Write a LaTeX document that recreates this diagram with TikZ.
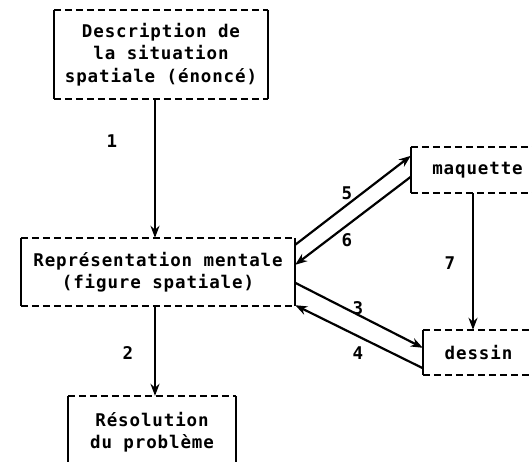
\documentclass[tikz,border=0pt]{standalone}
\usepackage{fontspec}
\newfontfamily\dm[LetterSpace=5]{DejaVu Sans Mono}
\usetikzlibrary{arrows.meta,calc}
\begin{document}
\begin{tikzpicture}[x=1pt,y=-1pt,
  box/.style={inner sep=0pt,align=center,font=\dm\bfseries\fontsize{17.5}{22.5}\selectfont},
  lab/.style={font=\dm\bfseries\fontsize{17.5}{22.5}\selectfont},
  ln/.style={line width=2.2pt},
  arr/.style={ln,-{Stealth[length=12pt,width=9pt]}}]
\useasboundingbox (0,0) rectangle (532,462);
\fill[white] (0,0) rectangle (532,462);
\clip (0,0) rectangle (532,462);
\node[box,minimum width=214pt,minimum height=89pt] (d) at (161,54.5) {Description de\\la situation\\spatiale (énoncé)};
\node[box,minimum width=274pt,minimum height=68pt] (r) at (158,272) {Représentation mentale\\(figure spatiale)};
\node[box,minimum width=168pt,minimum height=72pt] (s) at (152,432) {Résolution\\du problème};
\node[box,minimum width=133pt,minimum height=46pt] (m) at (477.5,170) {maquette};
\node[box,minimum width=111pt,minimum height=45pt] (ds) at (478.5,352.5) {dessin};
\foreach \n in {d,r,s,m,ds}{
  \draw[ln,dash pattern=on 7pt off 4pt] (\n.north west) -- (\n.north east);
  \draw[ln,dash pattern=on 7pt off 4pt] (\n.south west) -- (\n.south east);
  \draw[ln] (\n.north west) -- (\n.south west);
  \draw[ln] (\n.north east) -- (\n.south east);
}
\coordinate (c1) at (155,0);
\coordinate (c7) at (473,0);
\draw[arr] (d.south -| c1) -- (r.north -| c1);
\draw[arr] (r.south -| c1) -- (s.north -| c1);
\draw[arr] ([yshift=-7pt]r.north east) -- ([yshift=-9pt]m.north west);
\draw[arr] ([yshift=-30pt]m.north west) -- ([yshift=-27pt]r.north east);
\draw[arr] ([yshift=-45pt]r.north east) -- ([yshift=-18pt]ds.north west);
\draw[arr] ([yshift=7pt]ds.south west) -- ([yshift=1pt]r.south east);
\draw[arr] (m.south -| c7) -- (ds.north -| c7);
\node[lab] (l1) at (112,141) {1};
\node[lab] (l2) at (128,353) {2};
\node[lab] (l5) at (347,193) {5};
\node[lab] (l6) at (347,240) {6};
\node[lab] (l3) at (358,308) {3};
\node[lab] (l4) at (358,353) {4};
\node[lab] (l7) at (450,263) {7};
\end{tikzpicture}
\end{document}
